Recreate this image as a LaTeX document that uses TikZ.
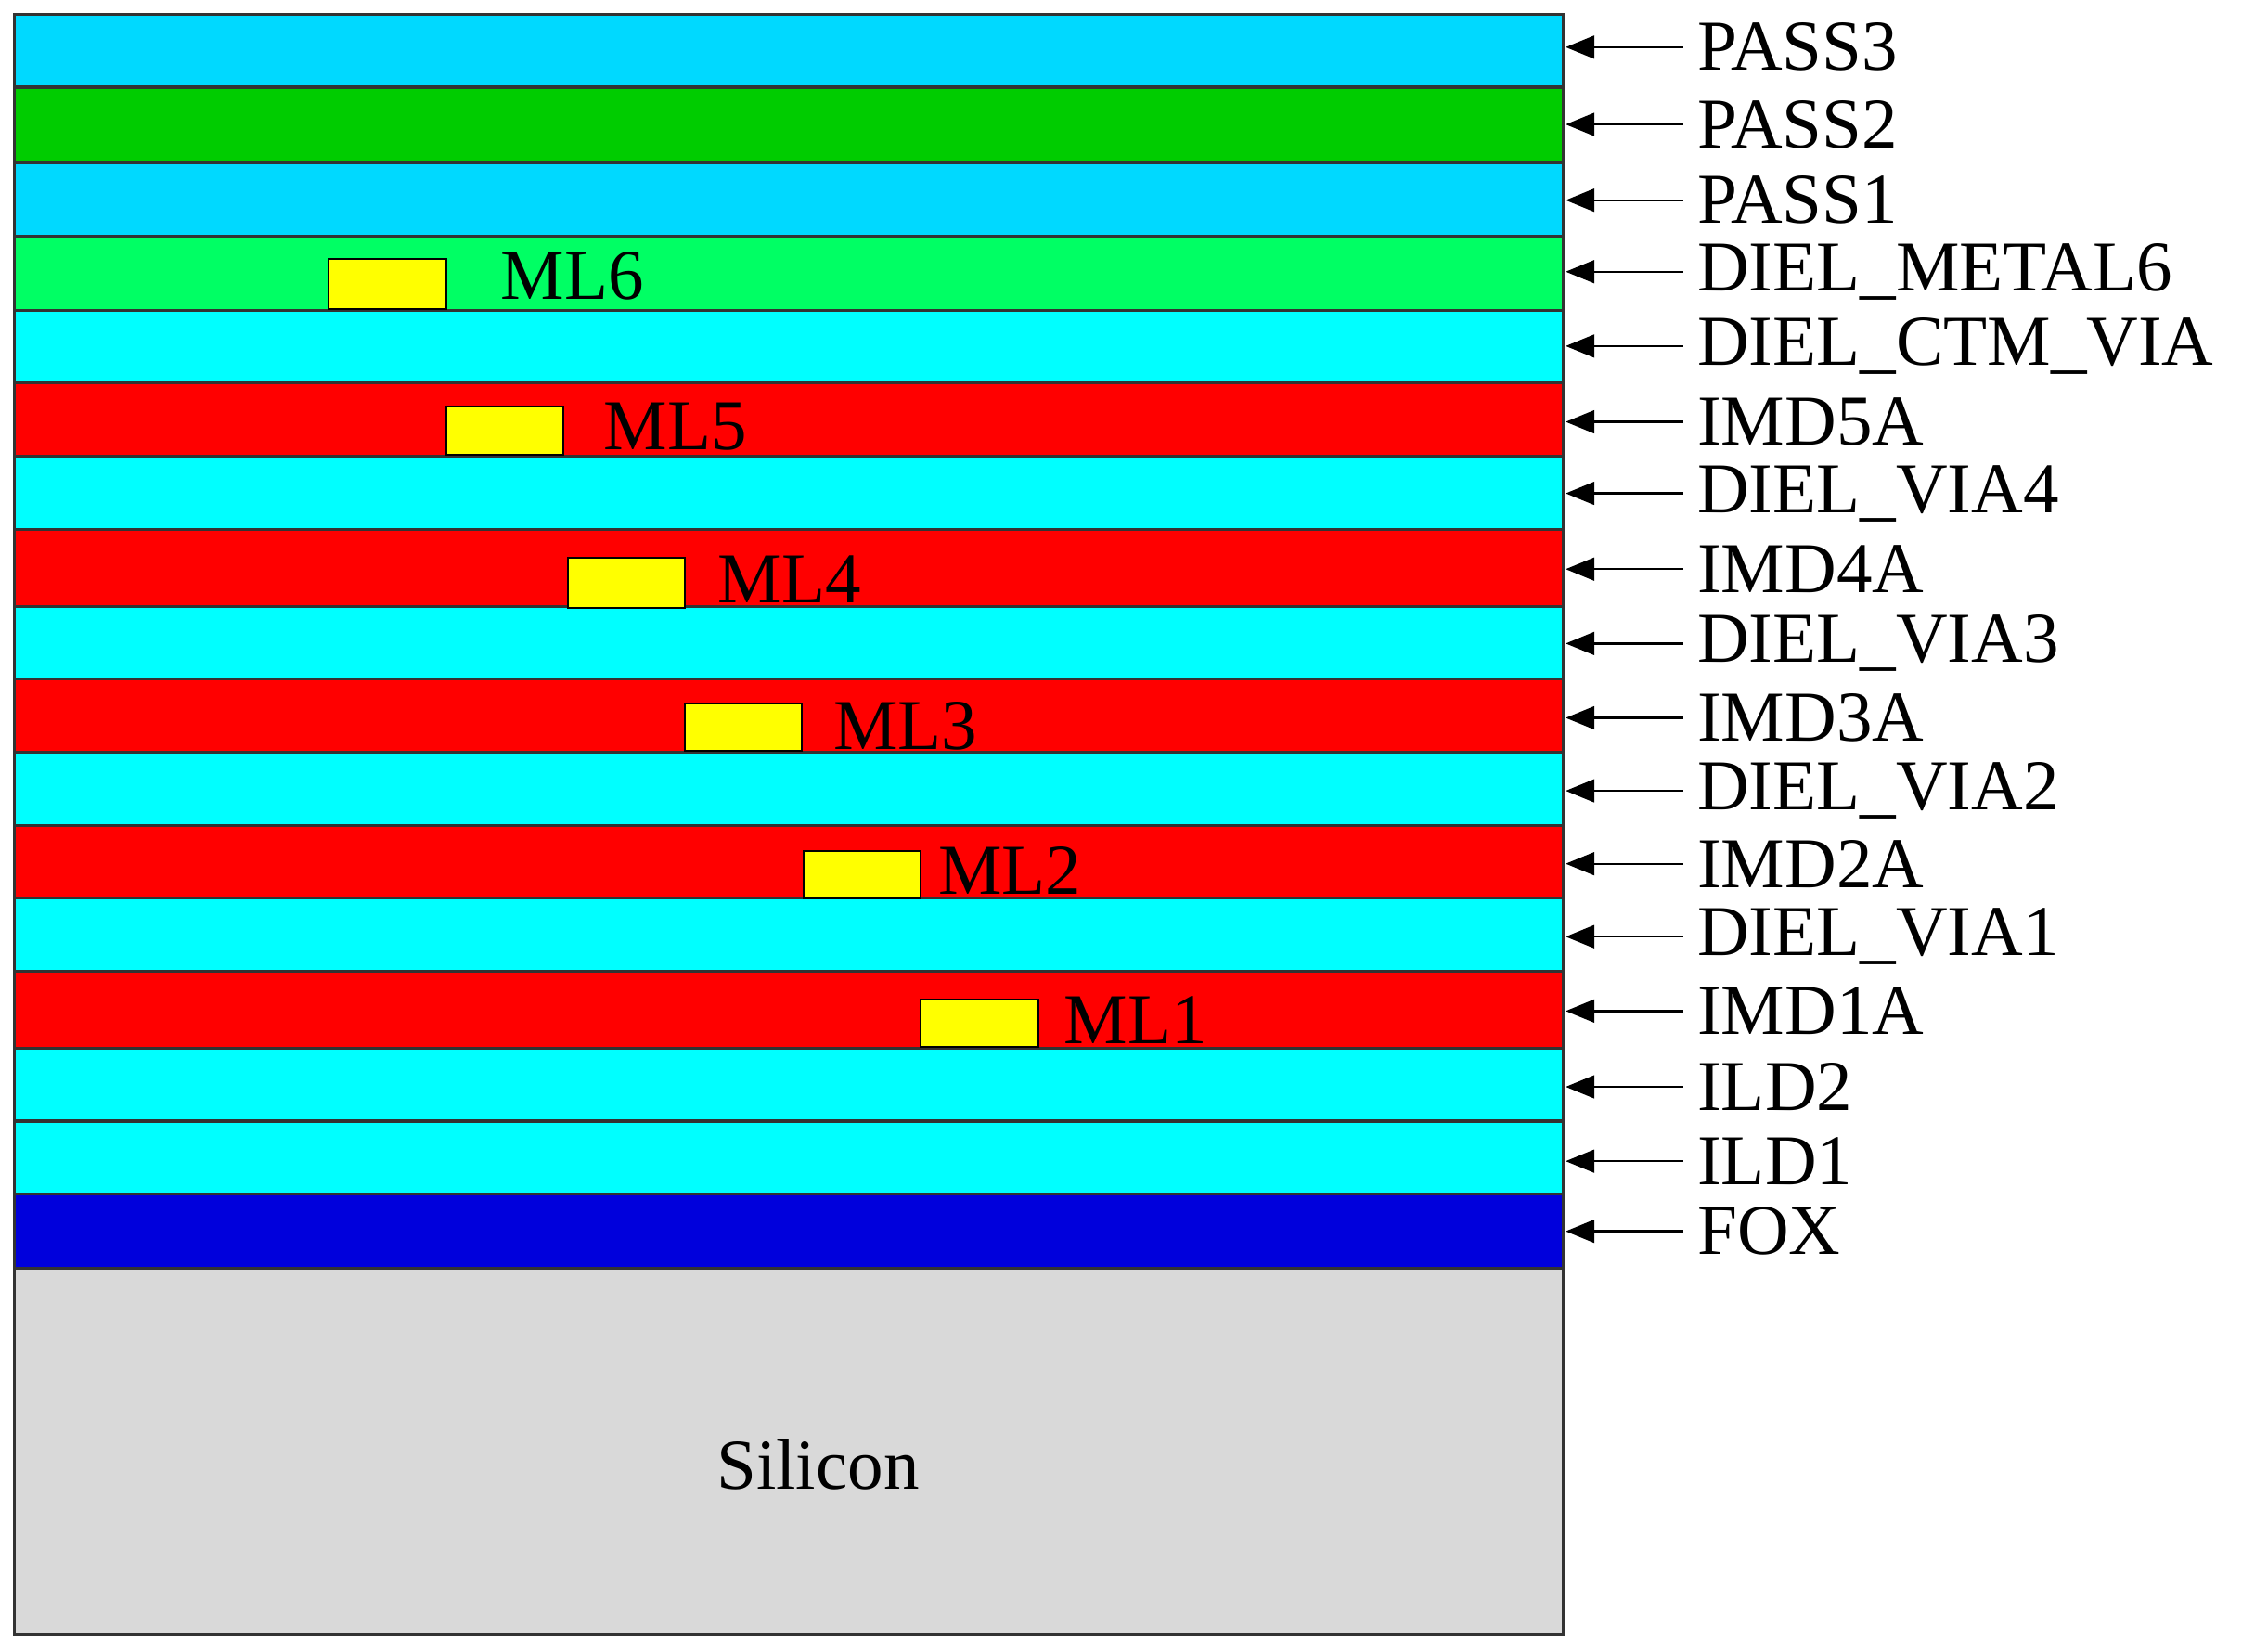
\documentclass[tikz,border=0pt]{standalone}
\usepackage{fontspec}
\setmainfont{Liberation Serif}
\usetikzlibrary{arrows.meta}
\definecolor{passb}{RGB}{0,217,255}
\definecolor{passg}{RGB}{0,204,0}
\definecolor{dm6}{RGB}{0,255,100}
\definecolor{cy}{RGB}{0,255,255}
\definecolor{rd}{RGB}{255,0,0}
\definecolor{fox}{RGB}{0,0,220}
\definecolor{si}{RGB}{217,217,217}
\definecolor{ml}{RGB}{255,255,0}
\tikzset{layer/.style={draw=black!80,line width=2pt},
 lab/.style={anchor=west,inner sep=0pt,font=\fontsize{50}{50}\selectfont},
 mltext/.style={anchor=west,inner sep=0pt,font=\fontsize{50}{50}\selectfont},
 arr/.style={-{Triangle[length=20pt,width=16pt]},line width=1.5pt},
 metal/.style={draw=black,line width=1.2pt,fill=ml}}
\begin{document}
\begin{tikzpicture}[x=1pt,y=-1pt]
\useasboundingbox (0,0) rectangle (1568,1155);
\foreach \t/\b/\c [count=\i] in {10/61/passb,61/114/passg,114/165/passb,165/217/dm6,217/268/cy,268/319/rd,319/370/cy,370/424/rd,424/475/cy,475/526/rd,526/577/cy,577/628/rd,628/679/cy,679/733/rd,733/784/cy,784/835/cy,835/887/fox}
  \draw[layer,fill=\c] (10,\t) rectangle (1093,\b);
\draw[layer,fill=si] (10,887) rectangle (1093,1143);
\node[font=\fontsize{50}{50}\selectfont] (silicon) at (572,1024) {Silicon};
\foreach \y/\txt [count=\i] in {33/PASS3,87/PASS2,140/PASS1,190/DIEL\_METAL6,242/DIEL\_CTM\_VIA,295/IMD5A,345/DIEL\_VIA4,398/IMD4A,450/DIEL\_VIA3,502/IMD3A,553/DIEL\_VIA2,604/IMD2A,655/DIEL\_VIA1,707/IMD1A,760/ILD2,812/ILD1,861/FOX}{
  \node[lab] (l\i) at (1187,\y) {\txt};
  \coordinate (e\i) at (1095,\y);
  \draw[arr] (1177,\y) -- (e\i);
}
\foreach \x/\t/\b/\lx/\ly/\n in {230/181/216/350/193/6,312/284/318/422/298/5,397/390/425/502/405/4,479/492/525/583/508/3,562/595/628/656/609/2,644/699/732/744/713/1}{
  \draw[metal] (\x,\t) rectangle (\x+82,\b);
  \node[mltext] (ml\n) at (\lx,\ly) {ML\n};
}
\end{tikzpicture}
\end{document}
